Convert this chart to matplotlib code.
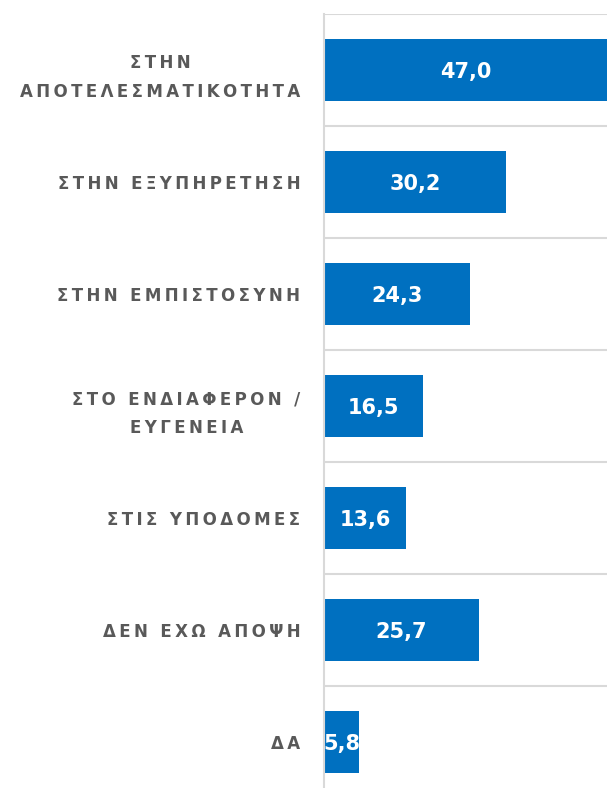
import matplotlib.pyplot as plt
import numpy as np

labels = ['ΣΤΗΝ\nΑΠΟΤΕΛΕΣΜΑΤΙΚΟΤΗΤΑ', 'ΣΤΗΝ ΕΞΥΠΗΡΕΤΗΣΗ', 'ΣΤΗΝ ΕΜΠΙΣΤΟΣΥΝΗ',
          'ΣΤΟ ΕΝΔΙΑΦΕΡΟΝ /\nΕΥΓΕΝΕΙΑ', 'ΣΤΙΣ ΥΠΟΔΟΜΕΣ', 'ΔΕΝ ΕΧΩ ΑΠΟΨΗ', 'ΔΑ']
values = [47.0, 30.2, 24.3, 16.5, 13.6, 25.7, 5.8]


def spaced(s):
    # widen the letters a bit with thin spaces
    return '\n'.join('\u2009'.join(line) for line in s.split('\n'))


fig = plt.figure(figsize=(6.07, 7.88), dpi=100)
W, H = 607, 788
top = 14
slot = 112
ax = fig.add_axes([324 / W, (H - top - 7 * slot) / H, (W - 324) / W, 7 * slot / H])

y = np.arange(len(values))
ax.barh(y, values, height=0.55, color='#0070c0')
ax.set_xlim(0, 47.0)
ax.set_ylim(6.5, -0.5)

for i, v in enumerate(values):
    ax.text(v / 2, i + 0.015, f'{v:.1f}'.replace('.', ','), ha='center', va='center',
            color='white', fontsize=15, fontweight='bold')

ax.set_yticks(y)
ax.set_yticklabels([spaced(l) for l in labels], fontsize=12, fontweight='bold',
                   color='#595959', linespacing=1.75)
plt.setp(ax.get_yticklabels(), multialignment='center')
ax.tick_params(axis='y', length=0, pad=17)
ax.set_xticks([])

ax.set_yticks(np.arange(-0.5, 7, 1), minor=True)
ax.tick_params(axis='y', which='minor', length=0)
ax.grid(axis='y', which='minor', color='#d9d9d9', linewidth=1.5)
ax.set_axisbelow(True)

for s in ['right', 'bottom', 'top']:
    ax.spines[s].set_visible(False)
ax.spines['left'].set_color('#d9d9d9')
ax.spines['left'].set_linewidth(1.5)

fig.savefig('out.png', dpi=100)
